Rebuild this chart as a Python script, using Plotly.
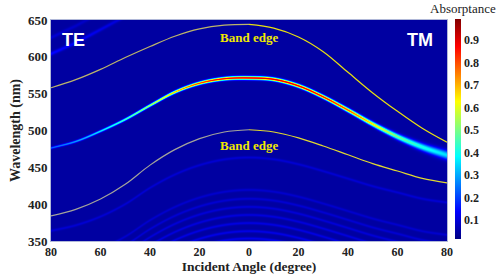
import numpy as np
import plotly.graph_objects as go

# ---------------- data ----------------
ANGLE_TICKS = [-80, -60, -40, -20, 0, 20, 40, 60, 80]
ANGLE_TICK_LABELS = ["80", "60", "40", "20", "0", "20", "40", "60", "80"]
WAVELENGTH_TICKS = [350, 400, 450, 500, 550, 600, 650]
CBAR_TICKS = [0.1, 0.2, 0.3, 0.4, 0.5, 0.6, 0.7, 0.8, 0.9]
Z_MIN, Z_MAX = 0.0156, 0.993

# sample angles (negative = TE side, positive = TM side)
CURVE_ANGLES = [-80, -70, -60, -50, -40, -30, -20, -10, 0, 10, 20, 30, 40, 50, 60, 70, 80]
UPPER_EDGE = [558, 569, 583, 599, 614, 628, 638, 643, 644, 639, 627, 607, 579, 551, 526, 503, 484]
LOWER_EDGE = [384, 393, 407, 427, 453, 474, 489, 498, 501, 498, 490, 479, 467, 455, 445, 435, 429]
MODE_CENTER = [477, 486, 500, 516, 535, 553, 565, 571, 572, 570, 561, 546, 528, 509, 492, 478, 467]
MODE_PEAK = [0.24, 0.30, 0.38, 0.47, 0.58, 0.72, 0.84, 0.90, 0.92, 0.92, 0.91, 0.88, 0.80, 0.66, 0.50, 0.41, 0.35]
MODE_WIDTH = [1.5, 1.6, 1.7, 1.8, 1.9, 2.0, 2.1, 2.2, 2.3, 2.3, 2.4, 2.5, 2.8, 3.2, 4.0, 5.0, 6.0]

TOP_FRINGE_ANGLES = [-80, -70, -60, -50]
TOP_FRINGE_CENTER = [605, 620, 638, 656]
TOP_FRINGE_PEAK = [0.10, 0.09, 0.07, 0.05]
TOP_FRINGE2_CENTER = [627, 643, 661, 680]
TOP_FRINGE2_PEAK = [0.05, 0.04, 0.03, 0.02]

BOTTOM_FRINGE_CENTER0 = [464, 420, 408, 397, 386, 375, 364, 354]
BOTTOM_FRINGE_PEAK = [0.05, 0.045, 0.05, 0.055, 0.06, 0.065, 0.07, 0.075]
BACKGROUND = 0.045


def smooth(xq, xs, ys):
    """Catmull-Rom curve through the read points (uniform spacing)."""
    xs = np.asarray(xs, float)
    ys = np.asarray(ys, float)
    h = xs[1] - xs[0]
    m = np.gradient(ys, h)
    i = np.clip(((xq - xs[0]) // h).astype(int), 0, len(xs) - 2)
    t = (xq - xs[i]) / h
    h00 = 2 * t**3 - 3 * t**2 + 1
    h10 = t**3 - 2 * t**2 + t
    h01 = -2 * t**3 + 3 * t**2
    h11 = t**3 - t**2
    return h00 * ys[i] + h10 * h * m[i] + h01 * ys[i + 1] + h11 * h * m[i + 1]


# ---------------- build absorptance map (anti-aliased to the pixel grid) ----------------
ang = np.linspace(-80, 80, 397)
wl = np.linspace(350, 650, 222)
step = wl[1] - wl[0]

c = smooth(ang, CURVE_ANGLES, MODE_CENTER)
p = smooth(ang, CURVE_ANGLES, MODE_PEAK)
s = smooth(ang, CURVE_ANGLES, MODE_WIDTH)
tops = []
for cen, pk in ((TOP_FRINGE_CENTER, TOP_FRINGE_PEAK), (TOP_FRINGE2_CENTER, TOP_FRINGE2_PEAK)):
    tc = np.interp(ang, TOP_FRINGE_ANGLES, cen, left=np.nan, right=np.nan)
    tp = np.interp(ang, TOP_FRINGE_ANGLES, pk, left=0, right=0)
    tops.append((np.where(np.isnan(tc), 1000, tc), tp))
edge = smooth(ang, CURVE_ANGLES, LOWER_EDGE)
drop = LOWER_EDGE[CURVE_ANGLES.index(0)] - edge


def absorb(W):
    z = np.full(W.shape, BACKGROUND)
    z += (p - BACKGROUND)[None, :] * np.exp(-((W - c[None, :]) / s[None, :]) ** 2)
    for tc, tp in tops:
        z += tp[None, :] * np.exp(-((W - tc[None, :]) / 2.6) ** 2)
    for c0, pk in zip(BOTTOM_FRINGE_CENTER0, BOTTOM_FRINGE_PEAK):
        fc = c0 - 0.85 * drop
        z += pk * np.exp(-((W - fc[None, :]) / 1.8) ** 2)
    return z


_, W0 = np.meshgrid(ang, wl)
offsets = (np.arange(8) + 0.5) / 8 - 0.5
z = np.mean([absorb(W0 + o * step) for o in offsets], axis=0)
z = np.clip(z, Z_MIN, Z_MAX)

jet = [[0, "rgb(0,0,131)"], [0.125, "rgb(0,0,255)"], [0.375, "rgb(0,255,255)"],
       [0.625, "rgb(255,255,0)"], [0.875, "rgb(255,0,0)"], [1, "rgb(128,0,0)"]]

serif = "Liberation Serif"
fig = go.Figure()
fig.add_trace(go.Heatmap(
    x=ang, y=wl, z=z, zmin=Z_MIN, zmax=Z_MAX, colorscale=jet, zsmooth="best",
    hoverinfo="skip",
    colorbar=dict(x=1.0202, xanchor="left", xpad=0, ypad=0, thickness=6,
                  len=220, lenmode="pixels", y=1.005, yanchor="top",
                  tickvals=CBAR_TICKS, ticks="", outlinewidth=0,
                  tickfont=dict(family=serif, size=12, color="#222", weight="bold")),
))

n0 = CURVE_ANGLES.index(0)
segs = [
    (CURVE_ANGLES[:n0 + 1], UPPER_EDGE[:n0 + 1], "#bdb56a"),
    (CURVE_ANGLES[n0:], UPPER_EDGE[n0:], "#e8e010"),
    (CURVE_ANGLES[:n0 + 1], LOWER_EDGE[:n0 + 1], "#a4a49a"),
    (CURVE_ANGLES[n0:], LOWER_EDGE[n0:], "#e0d830"),
]
for xs, ys, col in segs:
    fig.add_trace(go.Scatter(x=xs, y=ys, mode="lines", line=dict(color=col, width=1.2, shape="spline"),
                             hoverinfo="skip", showlegend=False))

fig.update_layout(
    width=498, height=275, margin=dict(l=51, r=51, t=20, b=34, autoexpand=False),
    paper_bgcolor="white", plot_bgcolor="rgb(0,0,160)", showlegend=False,
    font=dict(family=serif, color="#222"),
    xaxis=dict(range=[-80, 80], tickvals=ANGLE_TICKS, ticktext=ANGLE_TICK_LABELS, ticks="",
               showgrid=False, zeroline=False, showline=True, mirror=True, linecolor="#b0b8d8", linewidth=1,
               automargin=False,
               tickfont=dict(family=serif, size=12, weight="bold"),
               title=dict(text="Incident Angle (degree)", standoff=3,
                          font=dict(family=serif, size=13.5, weight="bold"))),
    yaxis=dict(range=[350, 650], tickvals=WAVELENGTH_TICKS, ticks="",
               showgrid=False, zeroline=False, showline=True, mirror=True, linecolor="#b0b8d8", linewidth=1,
               automargin=False,
               tickfont=dict(family=serif, size=13, weight="bold"),
               title=dict(text="Wavelength (nm)", standoff=4,
                          font=dict(family=serif, size=14, weight="bold"))),
    annotations=[
        dict(xref="paper", yref="paper", x=0.0556, y=0.909, xanchor="center", yanchor="middle",
             text="TE", showarrow=False,
             font=dict(family="Liberation Sans", size=18, color="white", weight="bold")),
        dict(xref="paper", yref="paper", x=0.932, y=0.909, xanchor="center", yanchor="middle",
             text="TM", showarrow=False,
             font=dict(family="Liberation Sans", size=18, color="white", weight="bold")),
        dict(x=0, y=626, text="Band edge", showarrow=False, xanchor="center", yanchor="middle",
             font=dict(family=serif, size=13, color="#f0e800", weight="bold")),
        dict(x=0, y=479, text="Band edge", showarrow=False, xanchor="center", yanchor="middle",
             font=dict(family=serif, size=13, color="#f0e800", weight="bold")),
        dict(xref="paper", yref="paper", x=1.04, y=1.054, xanchor="center", yanchor="middle",
             text="Absorptance", showarrow=False,
             font=dict(family=serif, size=13, color="#222")),
    ],
)

fig.write_html("out.html", config={"displayModeBar": False},
               post_script="document.body.style.margin='0';document.body.style.padding='0';"
                           "document.body.style.overflow='hidden';")
